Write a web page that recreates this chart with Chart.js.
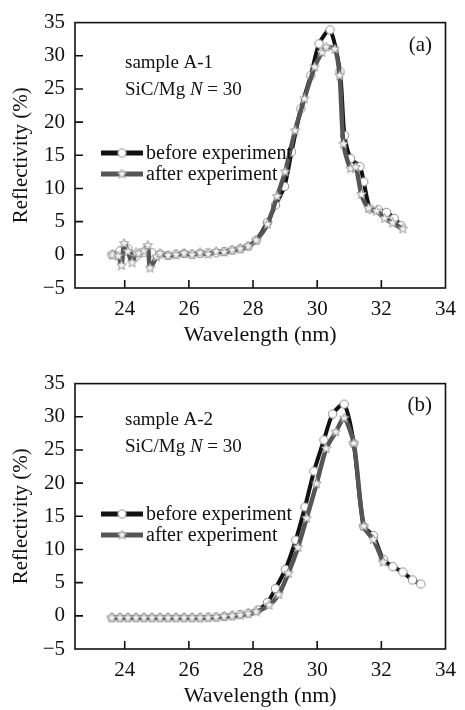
<!DOCTYPE html>
<html>
<head>
<meta charset="utf-8">
<script src="https://cdn.jsdelivr.net/npm/chart.js@4.4.1/dist/chart.umd.min.js"></script>
<style>
  body { margin: 0; background: #fff; width: 465px; height: 710px; overflow: hidden; position: relative; }
  .panel { position: absolute; left: 0; width: 465px; }
  #pa { top: 0; height: 361px; }
  #pb { top: 361px; height: 349px; }
</style>
</head>
<body>
<div class="panel" id="pa"><canvas id="chartA"></canvas></div>
<div class="panel" id="pb"><canvas id="chartB"></canvas></div>
<script>
// axis ticks
const xTicks = [24, 26, 28, 30, 32, 34];
const yTicks = [-5, 0, 5, 10, 15, 20, 25, 30, 35];
const seriesNames = ["before experiment", "after experiment"];

// (a) sample A-1
const aBeforeX = [23.6, 23.85, 24.1, 24.35, 24.6, 24.85, 25.1, 25.35, 25.6, 25.85, 26.1, 26.35, 26.6, 26.85, 27.1, 27.35, 27.6, 27.85, 28.1, 28.45, 28.7, 28.98, 29.2, 29.49, 29.8, 30.06, 30.4, 30.71, 30.85, 31.04, 31.33, 31.45, 31.65, 31.9, 32.16, 32.4, 32.62];
const aBeforeY = [0.0, 0.6, 0.9, -0.2, 0.4, 0.3, 0.1, -0.1, 0.1, 0.2, 0.1, 0.2, 0.3, 0.3, 0.5, 0.7, 0.9, 1.3, 2.2, 4.9, 7.5, 10.3, 15.5, 22.0, 27.0, 31.8, 33.9, 27.6, 18.0, 14.5, 13.3, 11.0, 6.9, 6.8, 6.4, 5.5, 4.4];
const aAfterX = [23.62, 23.8, 23.9, 23.98, 24.1, 24.23, 24.35, 24.44, 24.6, 24.72, 24.79, 24.99, 25.1, 25.35, 25.6, 25.85, 26.1, 26.35, 26.6, 26.85, 27.1, 27.35, 27.6, 27.85, 28.1, 28.45, 28.75, 29.0, 29.31, 29.6, 29.92, 30.15, 30.28, 30.55, 30.7, 30.82, 31.04, 31.2, 31.38, 31.6, 31.85, 32.1, 32.35, 32.67];
const aAfterY = [0.0, -0.2, -1.6, 1.7, 0.5, -1.2, 0.3, 0.2, 0.6, 1.4, -2.0, -0.3, 0.2, -0.1, 0.0, 0.2, 0.0, 0.3, 0.1, 0.5, 0.4, 0.7, 0.9, 1.3, 2.2, 4.6, 8.8, 12.5, 18.7, 23.5, 28.3, 30.5, 31.3, 31.0, 27.0, 16.7, 13.0, 13.2, 9.1, 7.0, 6.6, 5.5, 4.8, 3.9];

// (b) sample A-2
const bBeforeX = [23.6, 23.85, 24.1, 24.35, 24.6, 24.85, 25.1, 25.35, 25.6, 25.85, 26.1, 26.35, 26.6, 26.85, 27.1, 27.35, 27.6, 27.85, 28.15, 28.45, 28.7, 29.01, 29.33, 29.62, 29.9, 30.21, 30.48, 30.84, 31.14, 31.45, 31.75, 32.06, 32.36, 32.67, 32.97, 33.23];
const bBeforeY = [-0.3, -0.3, -0.3, -0.3, -0.3, -0.3, -0.3, -0.3, -0.3, -0.3, -0.3, -0.3, -0.2, -0.2, -0.1, 0.0, 0.2, 0.4, 0.9, 2.0, 4.1, 7.0, 11.4, 16.4, 21.8, 26.5, 30.4, 31.9, 26.0, 13.5, 12.1, 8.5, 7.4, 6.6, 5.4, 4.8];
const bAfterX = [23.6, 23.85, 24.1, 24.35, 24.6, 24.85, 25.1, 25.35, 25.6, 25.85, 26.1, 26.35, 26.6, 26.85, 27.1, 27.35, 27.6, 27.85, 28.1, 28.5, 28.8, 29.1, 29.4, 29.67, 29.98, 30.28, 30.58, 30.84, 31.14, 31.45, 31.75, 32.06];
const bAfterY = [-0.3, -0.3, -0.3, -0.3, -0.3, -0.3, -0.3, -0.3, -0.3, -0.3, -0.3, -0.3, -0.3, -0.2, -0.1, 0.0, 0.1, 0.3, 0.6, 1.6, 3.2, 6.4, 10.3, 14.7, 19.9, 25.2, 27.7, 29.8, 26.0, 13.5, 11.5, 8.1];

const SERIF = "'Liberation Serif', 'Times New Roman', serif";

function makeStar() {
  const c = document.createElement("canvas");
  c.width = c.height = 11;
  const g = c.getContext("2d");
  g.beginPath();
  for (let i = 0; i < 10; i++) {
    const r = i % 2 ? 2.3 : 5;
    const a = -Math.PI / 2 + i * Math.PI / 5;
    g.lineTo(5.5 + r * Math.cos(a), 5.5 + r * Math.sin(a));
  }
  g.closePath();
  g.fillStyle = "#f2f2f2";
  g.fill();
  g.strokeStyle = "#999";
  g.lineWidth = 1;
  g.stroke();
  return c;
}

function makeCircle() {
  const c = document.createElement("canvas");
  c.width = c.height = 11;
  const g = c.getContext("2d");
  g.beginPath();
  g.arc(5.5, 5.5, 4.2, 0, Math.PI * 2);
  g.fillStyle = "#fff";
  g.fill();
  g.strokeStyle = "#8a8a8a";
  g.lineWidth = 1;
  g.stroke();
  return c;
}

const circleImg = makeCircle();
const starImg = makeStar();

// frame, inward ticks, legend and labels
const decorations = {
  id: "decorations",
  afterDatasetsDraw(chart, args, opts) {
    const { ctx, chartArea: ca, scales } = chart;
    ctx.save();
    ctx.strokeStyle = "#111";
    ctx.lineWidth = 1.6;
    ctx.strokeRect(ca.left, ca.top, ca.right - ca.left, ca.bottom - ca.top);
    ctx.beginPath();
    xTicks.forEach(v => {
      if (v <= scales.x.min || v >= scales.x.max) return;
      const px = scales.x.getPixelForValue(v);
      ctx.moveTo(px, ca.bottom);
      ctx.lineTo(px, ca.bottom - 8);
    });
    yTicks.forEach(v => {
      if (v <= scales.y.min || v >= scales.y.max) return;
      const py = scales.y.getPixelForValue(v);
      ctx.moveTo(ca.left, py);
      ctx.lineTo(ca.left + 8, py);
    });
    ctx.stroke();

    // legend
    ctx.textBaseline = "middle";
    ctx.font = "20px " + SERIF;
    ctx.fillStyle = "#111";
    const legendY = [153, 174];
    chart.data.datasets.forEach((ds, i) => {
      const y = legendY[i];
      ctx.strokeStyle = ds.borderColor;
      ctx.lineWidth = 5;
      ctx.beginPath();
      ctx.moveTo(101, y);
      ctx.lineTo(143, y);
      ctx.stroke();
      ctx.drawImage(ds.pointStyle, 122 - 5.5, y - 5.5);
      ctx.fillText(ds.label, 146, y + 1);
    });

    // sample labels
    ctx.font = "19px " + SERIF;
    ctx.fillText(opts.sample, 125, opts.sampleY);
    let x = 125;
    const y2 = opts.sampleY + 27;
    ctx.fillText("SiC/Mg ", x, y2);
    x += ctx.measureText("SiC/Mg ").width;
    ctx.font = "italic 19px " + SERIF;
    ctx.fillText("N", x, y2);
    x += ctx.measureText("N").width;
    ctx.font = "19px " + SERIF;
    ctx.fillText(" = 30", x, y2);

    ctx.font = "21px " + SERIF;
    ctx.textAlign = "right";
    ctx.fillText(opts.tag, 432, opts.tagY);
    ctx.restore();
  }
};

function makePanel(id, height, bx, by, ax, ay, sample, sampleY, tag, tagY, titlePad) {
  const before = bx.map((v, i) => ({ x: v, y: by[i] }));
  const after = ax.map((v, i) => ({ x: v, y: ay[i] }));
  return new Chart(document.getElementById(id), {
    type: "line",
    data: {
      datasets: [
        {
          label: seriesNames[0],
          data: before,
          borderColor: "#111",
          borderWidth: 4,
          pointStyle: circleImg,
          tension: 0.25,
          order: 2
        },
        {
          label: seriesNames[1],
          data: after,
          borderColor: "#555",
          borderWidth: 4.5,
          pointStyle: starImg,
          tension: 0.25,
          order: 1
        }
      ]
    },
    options: {
      responsive: true,
      maintainAspectRatio: false,
      animation: false,
      layout: { padding: { left: 0, top: 14, right: 13, bottom: 0 } },
      plugins: {
        legend: { display: false },
        tooltip: { enabled: false },
        decorations: { sample: sample, sampleY: sampleY, tag: tag, tagY: tagY }
      },
      scales: {
        x: {
          type: "linear",
          min: 22.45,
          max: 34,
          afterBuildTicks: s => { s.ticks = xTicks.map(v => ({ value: v })); },
          afterFit: s => { s.height = height - 288; },
          grid: { display: false, drawTicks: false },
          border: { display: false },
          ticks: { color: "#111", padding: 9, font: { family: SERIF, size: 21 }, maxRotation: 0 },
          title: {
            display: true,
            text: "Wavelength (nm)",
            color: "#111",
            font: { family: SERIF, size: 22 },
            padding: { top: 0, bottom: titlePad }
          }
        },
        y: {
          type: "linear",
          min: -5,
          max: 35,
          afterBuildTicks: s => { s.ticks = yTicks.map(v => ({ value: v })); },
          afterFit: s => { s.width = 75; },
          grid: { display: false, drawTicks: false },
          border: { display: false },
          ticks: {
            color: "#111",
            padding: 10,
            font: { family: SERIF, size: 21 },
            callback: v => String(v).replace("-", "\u2212")
          },
          title: {
            display: true,
            text: "Reflectivity (%)",
            color: "#111",
            font: { family: SERIF, size: 21 },
            padding: { top: 9, bottom: 0 }
          }
        }
      }
    },
    plugins: [decorations]
  });
}

makePanel("chartA", 361, aBeforeX, aBeforeY, aAfterX, aAfterY, "sample A-1", 63, "(a)", 45, 13);
makePanel("chartB", 349, bBeforeX, bBeforeY, bAfterX, bAfterY, "sample A-2", 59, "(b)", 44, 1);
</script>
</body>
</html>
